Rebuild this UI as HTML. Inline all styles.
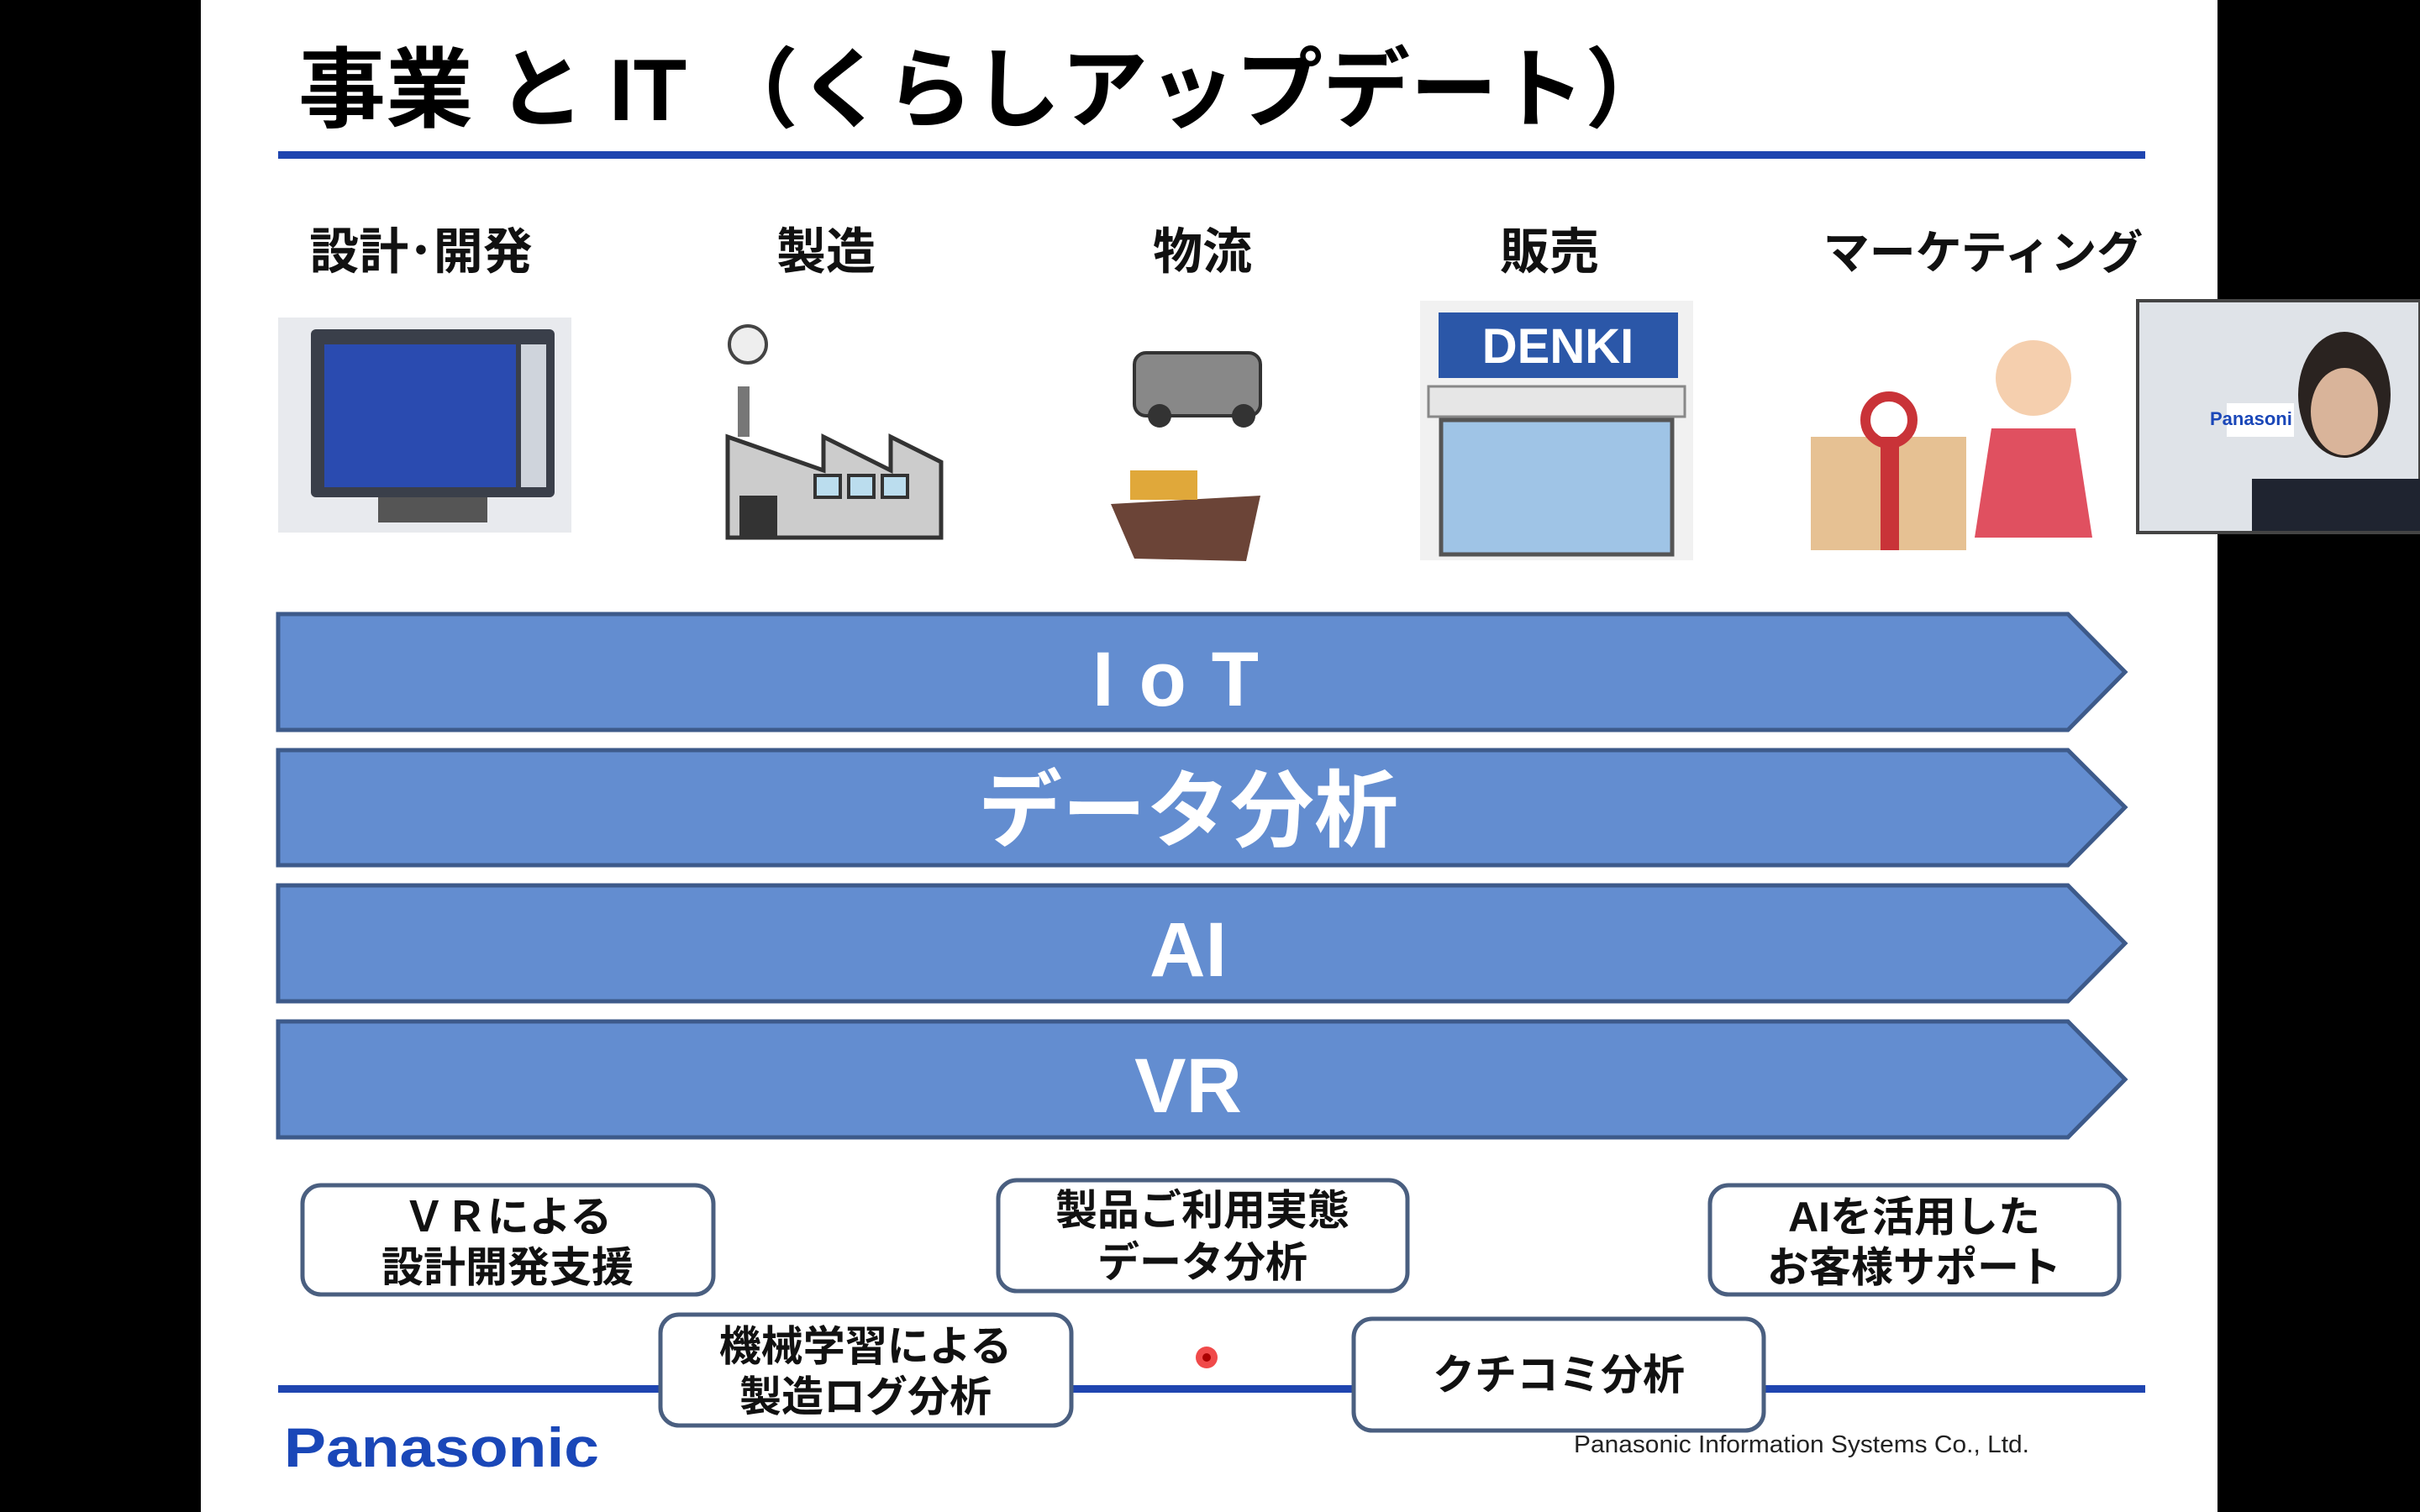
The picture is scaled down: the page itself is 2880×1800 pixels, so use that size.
<!DOCTYPE html>
<html><head><meta charset="utf-8"><style>
html,body{margin:0;padding:0;background:#000;}
svg{display:block}
text{font-family:"Liberation Sans","Noto Sans CJK JP",sans-serif;}
</style></head><body>
<svg width="2880" height="1800" viewBox="0 0 2880 1800" xmlns="http://www.w3.org/2000/svg">
<rect x="0" y="0" width="2880" height="1800" fill="#000"/>
<rect x="239" y="0" width="2400" height="1800" fill="#fff"/>
<text x="355" y="143" font-size="104" font-weight="bold" fill="#000">事業 と IT （くらしアップデート）</text>
<rect x="331" y="180" width="2222" height="9" fill="#1f45b0"/>
<g font-size="59" font-weight="bold" fill="#111" text-anchor="middle">
<text x="501" y="320">設計･開発</text>
<text x="983" y="320">製造</text>
<text x="1431" y="320">物流</text>
<text x="1844" y="320">販売</text>
<text x="2360" y="320" font-size="55">マーケティング</text>
</g>
<!-- monitor -->
<rect x="331" y="378" width="349" height="256" fill="#e8eaee"/>
<rect x="370" y="392" width="290" height="200" rx="6" fill="#3a3f4a"/>
<rect x="386" y="410" width="228" height="170" fill="#2a4bb0"/>
<rect x="620" y="410" width="30" height="170" fill="#cfd4dc"/>
<rect x="450" y="592" width="130" height="30" fill="#555"/>
<!-- factory -->
<rect x="878" y="460" width="14" height="60" fill="#777"/>
<circle cx="890" cy="410" r="22" fill="#eee" stroke="#444" stroke-width="4"/>
<polygon points="866,640 866,520 980,560 980,520 1060,560 1060,520 1120,550 1120,640" fill="#ccc" stroke="#333" stroke-width="5"/>
<rect x="880" y="590" width="45" height="50" fill="#333"/>
<rect x="970" y="566" width="30" height="26" fill="#bde" stroke="#333" stroke-width="4"/>
<rect x="1010" y="566" width="30" height="26" fill="#bde" stroke="#333" stroke-width="4"/>
<rect x="1050" y="566" width="30" height="26" fill="#bde" stroke="#333" stroke-width="4"/>
<!-- truck & ship -->
<rect x="1350" y="420" width="150" height="75" rx="14" fill="#888" stroke="#333" stroke-width="4"/>
<circle cx="1380" cy="495" r="14" fill="#333"/><circle cx="1480" cy="495" r="14" fill="#333"/>
<polygon points="1322,600 1500,590 1483,668 1350,665" fill="#6b4437"/>
<rect x="1345" y="560" width="80" height="35" fill="#e0a83a"/>
<!-- store -->
<rect x="1690" y="358" width="325" height="309" fill="#f1f1f1"/>
<rect x="1712" y="372" width="285" height="78" fill="#2b57a8"/>
<text x="1854" y="432" font-size="58" font-weight="bold" fill="#fff" text-anchor="middle">DENKI</text>
<rect x="1700" y="460" width="305" height="36" fill="#e6e6e6" stroke="#888" stroke-width="3"/>
<rect x="1715" y="500" width="275" height="160" fill="#9fc4e6" stroke="#555" stroke-width="5"/>
<!-- gift & girl -->
<rect x="2155" y="520" width="185" height="135" fill="#e6c193"/>
<rect x="2238" y="520" width="22" height="135" fill="#c93338"/>
<circle cx="2248" cy="500" r="28" fill="none" stroke="#c93338" stroke-width="12"/>
<circle cx="2420" cy="450" r="45" fill="#f5cfae"/>
<polygon points="2370,510 2470,510 2490,640 2350,640" fill="#e05060"/>
<!-- arrows -->
<g fill="#638dd0" stroke="#3d5a8a" stroke-width="5">
<polygon points="331,731 2461,731 2529,800 2461,869 331,869"/>
<polygon points="331,893 2461,893 2529,961 2461,1030 331,1030"/>
<polygon points="331,1054 2461,1054 2529,1123 2461,1192 331,1192"/>
<polygon points="331,1216 2461,1216 2529,1285 2461,1354 331,1354"/>
</g>
<g fill="#fff" font-weight="bold" text-anchor="middle">
<text x="1414" y="840" font-size="92" letter-spacing="30">IoT</text>
<text x="1414" y="1000" font-size="100">データ分析</text>
<text x="1414" y="1162" font-size="92">AI</text>
<text x="1414" y="1324" font-size="92">VR</text>
</g>
<rect x="331" y="1649" width="2222" height="9" fill="#1f45b0"/>
<g fill="#fff" stroke="#4a5f80" stroke-width="5">
<rect x="360" y="1411" width="489" height="130" rx="22"/>
<rect x="1188" y="1405" width="487" height="132" rx="22"/>
<rect x="2035" y="1411" width="487" height="130" rx="22"/>
<rect x="786" y="1565" width="489" height="132" rx="22"/>
<rect x="1611" y="1570" width="488" height="133" rx="22"/>
</g>
<g font-size="50" font-weight="bold" fill="#111" text-anchor="middle">
<text x="604" y="1466">ＶＲによる</text><text x="604" y="1526">設計開発支援</text>
<text x="1431" y="1458">製品ご利用実態</text><text x="1431" y="1520">データ分析</text>
<text x="2278" y="1466">AIを活用した</text><text x="2278" y="1526">お客様サポート</text>
<text x="1030" y="1620">機械学習による</text><text x="1030" y="1680">製造ログ分析</text>
<text x="1855" y="1654">クチコミ分析</text>
</g>
<text x="338" y="1746" font-size="66" font-weight="bold" fill="#1a47b8" textLength="375" lengthAdjust="spacingAndGlyphs">Panasonic</text>
<text x="1873" y="1729" font-size="29" fill="#222" textLength="542" lengthAdjust="spacingAndGlyphs">Panasonic Information Systems Co., Ltd.</text>
<circle cx="1436" cy="1616" r="13" fill="#f04a4a"/><circle cx="1436" cy="1616" r="5" fill="#a00"/>
<!-- webcam -->
<rect x="2544" y="358" width="336" height="276" fill="#dfe3e8" stroke="#444" stroke-width="4"/>
<rect x="2650" y="480" width="80" height="40" fill="#fff"/>
<text x="2630" y="506" font-size="22" font-weight="bold" fill="#1a47b8">Panasoni</text>
<ellipse cx="2790" cy="470" rx="55" ry="75" fill="#2a2320"/>
<ellipse cx="2790" cy="490" rx="40" ry="52" fill="#d9b49a"/>
<rect x="2680" y="570" width="200" height="62" fill="#1f2430"/>
</svg>
</body></html>
